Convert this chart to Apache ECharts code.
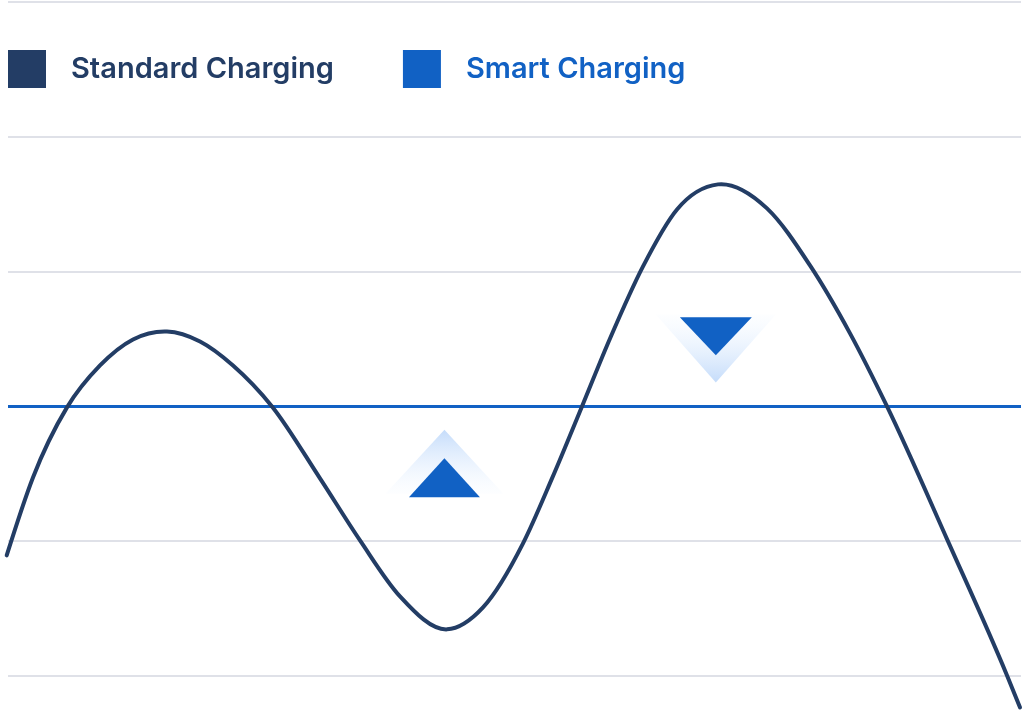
<!DOCTYPE html>
<html>
<head>
<meta charset="utf-8">
<script src="https://cdn.jsdelivr.net/npm/echarts@6/dist/echarts.min.js"></script>
<style>
html,body{margin:0;padding:0;background:#fff;}
#chart{width:1024px;height:713px;}
</style>
</head>
<body>
<div id="chart"></div>
<script>
// Series names
const seriesNames = ['Standard Charging', 'Smart Charging'];
// Standard charging curve: [time (h), level]
const standardData = [
  [-0.031,-1.105],[0.592,-0.527],[1.398,-0.007],[2.180,0.304],[2.962,0.497],[3.767,0.556],
  [4.549,0.482],[5.331,0.304],[6.255,0],[7.392,-0.534],[8.340,-0.994],[9.287,-1.409],
  [10.401,-1.654],[11.254,-1.491],[12.202,-1.016],[12.889,-0.534],[13.599,0],[14.263,0.504],
  [15.045,1.039],[15.850,1.461],[16.821,1.647],[17.982,1.469],[19.001,1.046],[19.949,0.542],
  [20.826,0],[22.271,-1.001],[23.669,-1.996],[23.977,-2.233]
];
// Smart charging flat level
const smartData = [[0,0],[24,0]];
// Indicator markers: [time, level]
const upMarker = [[10.34,-0.53]];
const upGlow = [[10.34,-0.41]];
const downMarker = [[16.77,0.52]];
const downGlow = [[16.77,0.43]];

const navy = '#233d65';
const blue = '#1161c4';
const glowGrad = {
  type:'linear', x:0, y:0, x2:0, y2:1,
  colorStops:[{offset:0,color:'rgba(190,216,250,0.9)'},{offset:1,color:'rgba(235,244,255,0.1)'}]
};

// smooth C1 curve (piecewise cubic Hermite) through the data points
function smoothPath(pts, api){
  const n = pts.length, m = [];
  for (let i = 1; i < n-1; i++) {
    const h0 = pts[i][0]-pts[i-1][0], h1 = pts[i+1][0]-pts[i][0];
    const d0 = (pts[i][1]-pts[i-1][1])/h0, d1 = (pts[i+1][1]-pts[i][1])/h1;
    m[i] = (d0*h1 + d1*h0)/(h0+h1);
  }
  const dA = (pts[1][1]-pts[0][1])/(pts[1][0]-pts[0][0]);
  m[0] = (3*dA - m[1])/2;
  const dB = (pts[n-1][1]-pts[n-2][1])/(pts[n-1][0]-pts[n-2][0]);
  m[n-1] = (3*dB - m[n-2])/2;
  const p0 = api.coord(pts[0]);
  let d = 'M' + p0[0] + ' ' + p0[1];
  for (let i = 0; i < n-1; i++) {
    const h = pts[i+1][0]-pts[i][0];
    const c1 = api.coord([pts[i][0]+h/3, pts[i][1]+m[i]*h/3]);
    const c2 = api.coord([pts[i+1][0]-h/3, pts[i+1][1]-m[i+1]*h/3]);
    const e = api.coord(pts[i+1]);
    d += ' C' + c1[0] + ' ' + c1[1] + ' ' + c2[0] + ' ' + c2[1] + ' ' + e[0] + ' ' + e[1];
  }
  return d;
}

const chart = echarts.init(document.getElementById('chart'));
chart.setOption({
  animation:false,
  backgroundColor:'#ffffff',
  legend:{
    left:8, top:50, padding:0, itemWidth:38, itemHeight:38, itemGap:69, icon:'rect',
    textStyle:{fontFamily:'Inter', fontSize:29, fontWeight:600, padding:[8,0,0,20]},
    data:[
      {name:seriesNames[0], textStyle:{color:navy}},
      {name:seriesNames[1], textStyle:{color:blue}}
    ]
  },
  grid:{left:8, right:3, top:2, bottom:37},
  xAxis:{type:'value', min:0, max:24, show:false},
  yAxis:{
    type:'value', min:-2, max:3, interval:1,
    axisLine:{show:false}, axisTick:{show:false}, axisLabel:{show:false},
    splitLine:{show:true, lineStyle:{color:'#dfe1e8', width:2}}
  },
  series:[
    {name:'upGlow', type:'scatter', data:upGlow, symbol:'triangle', symbolSize:[118,64],
     itemStyle:{color:glowGrad, opacity:1}, silent:true, z:1},
    {name:'downGlow', type:'scatter', data:downGlow, symbol:'triangle', symbolSize:[120,68], symbolRotate:180,
     itemStyle:{color:glowGrad, opacity:1}, silent:true, z:1},
    {name:seriesNames[1], type:'line', data:smartData, showSymbol:false, clip:false,
     lineStyle:{color:blue, width:3}, itemStyle:{color:blue}, z:3},
    {name:seriesNames[0], type:'custom', data:standardData, clip:false, z:4,
     encode:{x:0, y:1}, itemStyle:{color:navy},
     renderItem:function(params, api){
       if (params.dataIndex !== 0) return null;
       return {type:'path', shape:{pathData:smoothPath(standardData, api)},
               style:{fill:'none', stroke:navy, lineWidth:4, lineCap:'round', lineJoin:'round'}};
     }},
    {name:'upMarker', type:'scatter', data:upMarker, symbol:'triangle', symbolSize:[71,39],
     itemStyle:{color:blue, opacity:1}, z:2},
    {name:'downMarker', type:'scatter', data:downMarker, symbol:'triangle', symbolSize:[72,38], symbolRotate:180,
     itemStyle:{color:blue, opacity:1}, z:2}
  ]
});
</script>
</body>
</html>
